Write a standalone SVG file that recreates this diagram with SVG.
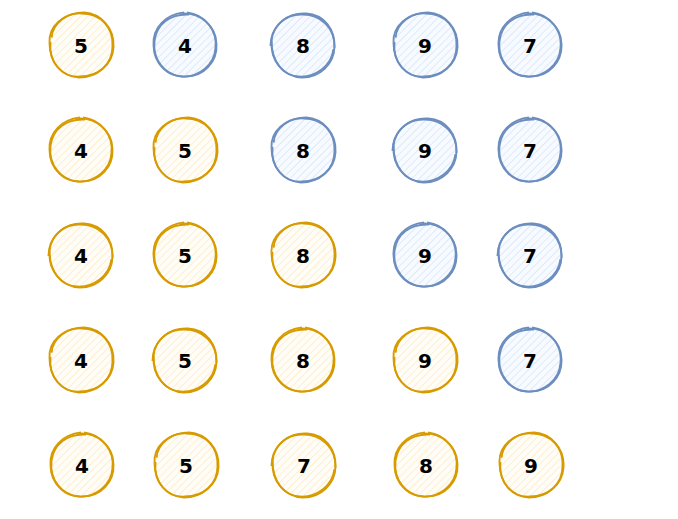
<svg xmlns="http://www.w3.org/2000/svg" xmlns:xlink="http://www.w3.org/1999/xlink" width="678" height="519" viewBox="0 0 678 519">
<style>
.lbl{font-family:"DejaVu Sans","Liberation Sans",sans-serif;font-weight:bold;font-size:20px;fill:#000;text-anchor:middle}
.o use{color:#d79b00;fill:url(#hO)}
.b use{color:#6c8ebf;fill:url(#hB)}
.ring{fill:none;stroke:currentColor;stroke-width:1.75}
.bg{stroke:none}
</style>
<defs>
<pattern id="hO" width="5" height="5" patternUnits="userSpaceOnUse" patternTransform="rotate(45)">
<rect width="5" height="5" fill="#fffdf8"/>
<line x1="0" y1="0" x2="0" y2="5" stroke="#ffe9c4" stroke-width="1.4"/>
</pattern>
<pattern id="hB" width="5" height="5" patternUnits="userSpaceOnUse" patternTransform="rotate(45)">
<rect width="5" height="5" fill="#f7fafe"/>
<line x1="0" y1="0" x2="0" y2="5" stroke="#d6e5fb" stroke-width="1.4"/>
</pattern>
<g id="rA" transform="scale(1.05)">
<circle class="bg" r="29.5"/>
<path class="ring" d="M -30,-2 C -31,-18 -16,-31 1,-30 C 18,-30 31,-17 30,1 C 30,18 17,30 -1,30 C -18,31 -30,17 -30,-2"/>
<path class="ring" d="M -28,-7 C -27,-21 -13,-31 3,-31 C 19,-30 32,-16 31,2 C 30,19 15,31 -2,31 C -19,30 -31,16 -29,-3"/>
</g>
<g id="rB" transform="scale(1.05)">
<circle class="bg" r="29.5"/>
<path class="ring" d="M -3,-30 C 14,-31 30,-18 30,-1 C 31,16 18,30 1,30 C -16,31 -30,18 -30,0 C -31,-17 -18,-29 -1,-31"/>
<path class="ring" d="M 2,-31 C 19,-29 31,-14 29,3 C 28,19 13,31 -3,30 C -19,29 -31,14 -29,-4 C -27,-20 -14,-30 4,-29"/>
</g>
<g id="rC" transform="scale(1.05)">
<circle class="bg" r="29.5"/>
<path class="ring" d="M 29,4 C 27,20 12,31 -4,30 C -20,29 -31,14 -30,-3 C -29,-20 -14,-31 3,-30 C 20,-29 31,-15 30,3"/>
<path class="ring" d="M -31,1 C -31,-17 -17,-30 0,-29 C 17,-29 30,-16 30,1 C 30,18 16,31 -1,31 C -18,30 -30,17 -30,-4"/>
</g>
</defs>
<rect width="678" height="519" fill="#fff"/>
<g id="r1">
<g id="n1_1" class="o"><use xlink:href="#rA" x="81" y="45"/><text class="lbl" x="81" y="52.5">5</text></g>
<g id="n1_2" class="b"><use xlink:href="#rB" x="185" y="45"/><text class="lbl" x="185" y="52.5">4</text></g>
<g id="n1_3" class="b"><use xlink:href="#rC" x="303" y="45"/><text class="lbl" x="303" y="52.5">8</text></g>
<g id="n1_4" class="b"><use xlink:href="#rA" x="425" y="45"/><text class="lbl" x="425" y="52.5">9</text></g>
<g id="n1_5" class="b"><use xlink:href="#rB" x="530" y="45"/><text class="lbl" x="530" y="52.5">7</text></g>
</g>
<g id="r2">
<g id="n2_1" class="o"><use xlink:href="#rB" x="81" y="150"/><text class="lbl" x="81" y="157.5">4</text></g>
<g id="n2_2" class="o"><use xlink:href="#rA" x="185" y="150"/><text class="lbl" x="185" y="157.5">5</text></g>
<g id="n2_3" class="b"><use xlink:href="#rA" x="303" y="150"/><text class="lbl" x="303" y="157.5">8</text></g>
<g id="n2_4" class="b"><use xlink:href="#rC" x="425" y="150"/><text class="lbl" x="425" y="157.5">9</text></g>
<g id="n2_5" class="b"><use xlink:href="#rB" x="530" y="150"/><text class="lbl" x="530" y="157.5">7</text></g>
</g>
<g id="r3">
<g id="n3_1" class="o"><use xlink:href="#rC" x="81" y="255"/><text class="lbl" x="81" y="262.5">4</text></g>
<g id="n3_2" class="o"><use xlink:href="#rB" x="185" y="255"/><text class="lbl" x="185" y="262.5">5</text></g>
<g id="n3_3" class="o"><use xlink:href="#rA" x="303" y="255"/><text class="lbl" x="303" y="262.5">8</text></g>
<g id="n3_4" class="b"><use xlink:href="#rB" x="425" y="255"/><text class="lbl" x="425" y="262.5">9</text></g>
<g id="n3_5" class="b"><use xlink:href="#rC" x="530" y="255"/><text class="lbl" x="530" y="262.5">7</text></g>
</g>
<g id="r4">
<g id="n4_1" class="o"><use xlink:href="#rA" x="81" y="360"/><text class="lbl" x="81" y="367.5">4</text></g>
<g id="n4_2" class="o"><use xlink:href="#rC" x="185" y="360"/><text class="lbl" x="185" y="367.5">5</text></g>
<g id="n4_3" class="o"><use xlink:href="#rB" x="303" y="360"/><text class="lbl" x="303" y="367.5">8</text></g>
<g id="n4_4" class="o"><use xlink:href="#rA" x="425" y="360"/><text class="lbl" x="425" y="367.5">9</text></g>
<g id="n4_5" class="b"><use xlink:href="#rB" x="530" y="360"/><text class="lbl" x="530" y="367.5">7</text></g>
</g>
<g id="r5">
<g id="n5_1" class="o"><use xlink:href="#rB" x="82" y="465"/><text class="lbl" x="82" y="472.5">4</text></g>
<g id="n5_2" class="o"><use xlink:href="#rA" x="186" y="465"/><text class="lbl" x="186" y="472.5">5</text></g>
<g id="n5_3" class="o"><use xlink:href="#rC" x="304" y="465"/><text class="lbl" x="304" y="472.5">7</text></g>
<g id="n5_4" class="o"><use xlink:href="#rB" x="426" y="465"/><text class="lbl" x="426" y="472.5">8</text></g>
<g id="n5_5" class="o"><use xlink:href="#rA" x="531" y="465"/><text class="lbl" x="531" y="472.5">9</text></g>
</g>
<g id="connectors"/>
</svg>
